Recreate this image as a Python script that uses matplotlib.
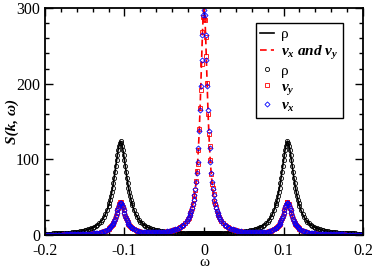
import numpy as np
import matplotlib
matplotlib.use("Agg")
import matplotlib.pyplot as plt
from matplotlib.ticker import MultipleLocator

plt.rcParams["font.family"] = ["Liberation Serif", "DejaVu Serif"]
plt.rcParams["mathtext.fontset"] = "custom"
plt.rcParams["mathtext.rm"] = "Liberation Serif"
plt.rcParams["mathtext.it"] = "Liberation Serif:italic:bold"
plt.rcParams["mathtext.bf"] = "Liberation Serif:bold"

# coarse frequency grid of the spectrum, -0.2 .. 0.2 in steps of 0.002
omega = np.linspace(-0.2, 0.2, 201)

# density spectrum S(k, w)
rho = [
    1.65, 1.7, 1.8, 1.85, 1.9, 2.0, 2.1, 2.2, 2.3, 2.4,
    2.5, 2.6, 2.7, 2.9, 3.0, 3.2, 3.3, 3.5, 3.8, 4.0,
    4.3, 4.6, 4.9, 5.3, 5.7, 6.2, 6.7, 7.3, 8.0, 8.8,
    9.7, 10.8, 12.1, 13.6, 15.4, 17.6, 20.3, 23.5, 27.6, 32.6,
    38.9, 46.8, 56.7, 68.9, 83.2, 98.7, 112.6, 121.1, 121.1, 112.6,
    98.7, 83.2, 69.0, 56.8, 46.9, 39.0, 32.7, 27.7, 23.7, 20.4,
    17.8, 15.6, 13.8, 12.3, 11.0, 10.0, 9.0, 8.2, 7.5, 7.0,
    6.4, 6.0, 5.6, 5.2, 4.9, 4.6, 4.3, 4.1, 3.9, 3.7,
    3.5, 3.4, 3.25, 3.1, 3.0, 2.9, 2.8, 2.75, 2.7, 2.6,
    2.55, 2.5, 2.45, 2.4, 2.4, 2.35, 2.3, 2.3, 2.3, 2.3,
    2.3,
    2.3, 2.3, 2.3, 2.3, 2.35, 2.4, 2.4, 2.45, 2.5, 2.55,
    2.6, 2.7, 2.75, 2.8, 2.9, 3.0, 3.1, 3.25, 3.4, 3.5,
    3.7, 3.9, 4.1, 4.3, 4.6, 4.9, 5.2, 5.6, 6.0, 6.4,
    7.0, 7.5, 8.2, 9.0, 10.0, 11.0, 12.3, 13.8, 15.6, 17.8,
    20.4, 23.7, 27.7, 32.7, 39.0, 46.9, 56.8, 69.0, 83.2, 98.7,
    112.6, 121.1, 121.1, 112.6, 98.7, 83.2, 68.9, 56.7, 46.8, 38.9,
    32.6, 27.6, 23.5, 20.3, 17.6, 15.4, 13.6, 12.1, 10.8, 9.7,
    8.8, 8.0, 7.3, 6.7, 6.2, 5.7, 5.3, 4.9, 4.6, 4.3,
    4.0, 3.8, 3.5, 3.3, 3.2, 3.0, 2.9, 2.7, 2.6, 2.5,
    2.4, 2.3, 2.2, 2.1, 2.0, 1.9, 1.85, 1.8, 1.7, 1.65,
]

# transverse velocity spectrum v_y
vy = [
    0.46, 0.47, 0.49, 0.5, 0.52, 0.54, 0.56, 0.58, 0.6, 0.63,
    0.65, 0.67, 0.7, 0.73, 0.76, 0.8, 0.84, 0.88, 0.92, 0.97,
    1.0, 1.1, 1.15, 1.2, 1.3, 1.4, 1.5, 1.6, 1.75, 1.9,
    2.1, 2.3, 2.5, 2.8, 3.2, 3.6, 4.1, 4.8, 5.6, 6.7,
    8.1, 10.1, 12.8, 16.5, 21.7, 28.6, 36.3, 43.0, 41.0, 36.4,
    28.8, 22.0, 16.9, 13.2, 10.6, 8.7, 7.3, 6.3, 5.5, 4.95,
    4.5, 4.2, 3.95, 3.75, 3.6, 3.5, 3.45, 3.45, 3.45, 3.5,
    3.55, 3.65, 3.8, 3.9, 4.1, 4.35, 4.6, 4.9, 5.3, 5.7,
    6.1, 6.6, 7.3, 8.1, 9.1, 10.2, 11.6, 13.3, 15.4, 18.0,
    21.5, 26.0, 32.1, 40.5, 51.0, 72.0, 94.0, 140.0, 192.0, 268.0,
    286.0,
    262.0, 201.0, 134.0, 99.0, 68.0, 54.0, 40.5, 32.1, 26.0, 21.5,
    18.0, 15.4, 13.3, 11.6, 10.2, 9.1, 8.1, 7.3, 6.6, 6.1,
    5.7, 5.3, 4.9, 4.6, 4.35, 4.1, 3.9, 3.8, 3.65, 3.55,
    3.5, 3.45, 3.45, 3.45, 3.5, 3.6, 3.75, 3.95, 4.2, 4.5,
    4.95, 5.5, 6.3, 7.3, 8.7, 10.6, 13.2, 16.9, 22.0, 28.8,
    36.4, 43.0, 41.0, 36.3, 28.6, 21.7, 16.5, 12.8, 10.1, 8.1,
    6.7, 5.6, 4.8, 4.1, 3.6, 3.2, 2.8, 2.5, 2.3, 2.1,
    1.9, 1.75, 1.6, 1.5, 1.4, 1.3, 1.2, 1.15, 1.1, 1.0,
    0.97, 0.92, 0.88, 0.84, 0.8, 0.76, 0.73, 0.7, 0.67, 0.65,
    0.63, 0.6, 0.58, 0.56, 0.54, 0.52, 0.5, 0.49, 0.47, 0.46,
]

# longitudinal velocity spectrum v_x
vx = [
    0.46, 0.47, 0.49, 0.5, 0.52, 0.54, 0.56, 0.58, 0.6, 0.63,
    0.65, 0.67, 0.7, 0.73, 0.76, 0.8, 0.84, 0.88, 0.92, 0.97,
    1.0, 1.1, 1.15, 1.2, 1.3, 1.4, 1.5, 1.6, 1.75, 1.9,
    2.1, 2.3, 2.5, 2.8, 3.2, 3.6, 4.1, 4.8, 5.6, 6.7,
    8.1, 10.1, 12.8, 16.5, 21.7, 28.6, 36.3, 42.0, 42.0, 36.4,
    28.8, 22.0, 16.9, 13.2, 10.6, 8.7, 7.3, 6.3, 5.5, 4.95,
    4.5, 4.2, 3.95, 3.75, 3.6, 3.5, 3.45, 3.45, 3.45, 3.5,
    3.55, 3.65, 3.8, 3.9, 4.1, 4.35, 4.6, 4.9, 5.3, 5.7,
    6.1, 6.6, 7.3, 8.1, 9.1, 10.2, 11.6, 13.3, 15.4, 18.0,
    21.5, 26.0, 32.1, 40.5, 52.5, 70.1, 96.7, 137.4, 196.6, 265.0,
    298.0,
    265.0, 196.6, 137.4, 96.7, 70.1, 52.5, 40.5, 32.1, 26.0, 21.5,
    18.0, 15.4, 13.3, 11.6, 10.2, 9.1, 8.1, 7.3, 6.6, 6.1,
    5.7, 5.3, 4.9, 4.6, 4.35, 4.1, 3.9, 3.8, 3.65, 3.55,
    3.5, 3.45, 3.45, 3.45, 3.5, 3.6, 3.75, 3.95, 4.2, 4.5,
    4.95, 5.5, 6.3, 7.3, 8.7, 10.6, 13.2, 16.9, 22.0, 28.8,
    36.4, 42.0, 42.0, 36.3, 28.6, 21.7, 16.5, 12.8, 10.1, 8.1,
    6.7, 5.6, 4.8, 4.1, 3.6, 3.2, 2.8, 2.5, 2.3, 2.1,
    1.9, 1.75, 1.6, 1.5, 1.4, 1.3, 1.2, 1.15, 1.1, 1.0,
    0.97, 0.92, 0.88, 0.84, 0.8, 0.76, 0.73, 0.7, 0.67, 0.65,
    0.63, 0.6, 0.58, 0.56, 0.54, 0.52, 0.5, 0.49, 0.47, 0.46,
]

# extra samples in between, around the three peaks
omega_fine = [
    -0.119, -0.117, -0.115, -0.113, -0.111, -0.109, -0.107, -0.105,
    -0.103, -0.101, -0.099, -0.097, -0.095, -0.093, -0.091,
    -0.019, -0.017, -0.015, -0.013, -0.011, -0.009, -0.007, -0.005, -0.003, -0.001,
    0.001, 0.003, 0.005, 0.007, 0.009, 0.011, 0.013, 0.015, 0.017, 0.019,
    0.091, 0.093, 0.095, 0.097, 0.099, 0.101, 0.103, 0.105,
    0.107, 0.109, 0.111, 0.113, 0.115, 0.117, 0.119,
]
rho_fine = [
    42.6, 51.5, 62.5, 75.8, 90.9, 106.0, 117.9, 124.0,
    117.9, 106.1, 91.0, 75.9, 62.6, 51.6, 42.7,
    2.5, 2.45, 2.4, 2.4, 2.35, 2.3, 2.3, 2.3, 2.3, 2.3,
    2.3, 2.3, 2.3, 2.3, 2.3, 2.35, 2.4, 2.4, 2.45, 2.5,
    42.7, 51.6, 62.6, 75.9, 91.0, 106.1, 117.9, 124.0,
    117.9, 106.0, 90.9, 75.8, 62.5, 51.5, 42.6,
]
vy_fine = [
    9.0, 11.4, 14.5, 18.9, 24.9, 32.5, 40.5, 43.5,
    39.0, 32.6, 25.1, 19.2, 14.8, 11.75, 9.5,
    23.0, 29.5, 35.2, 47.0, 59.0, 84.0, 112.0, 168.0, 226.0, 288.0,
    284.0, 236.0, 160.0, 118.0, 80.0, 62.0, 45.0, 37.0, 28.0, 24.0,
    9.5, 11.75, 14.8, 19.2, 25.1, 32.6, 39.0, 44.0,
    40.5, 32.5, 24.9, 18.9, 14.5, 11.4, 9.0,
]
vx_fine = [
    9.0, 11.4, 14.5, 18.9, 24.9, 32.5, 39.6, 42.8,
    39.7, 32.6, 25.1, 19.2, 14.8, 11.75, 9.5,
    23.6, 28.8, 36.0, 45.9, 60.4, 82.0, 114.9, 164.7, 231.6, 290.8,
    290.8, 231.6, 164.7, 114.9, 82.0, 60.4, 45.9, 36.0, 28.8, 23.6,
    9.5, 11.75, 14.8, 19.2, 25.1, 32.6, 39.7, 42.8,
    39.6, 32.5, 24.9, 18.9, 14.5, 11.4, 9.0,
]

# merge both sample sets in frequency order
w = np.concatenate([omega, omega_fine])
order = np.argsort(w)
w = w[order]
s_rho = np.concatenate([rho, rho_fine])[order]
s_vy = np.concatenate([vy, vy_fine])[order]
s_vx = np.concatenate([vx, vx_fine])[order]

fig = plt.figure(figsize=(3.74, 2.70), dpi=100)
ax = fig.add_axes([0.1203, 0.1296, 0.8503, 0.8407])

ax.plot(w, s_rho, color="black", lw=1.2, label="ρ")
ax.plot(w, s_vx, color="red", lw=1.2, ls=(0, (4, 2.5)), label=r"$v_x$ and $v_y$")
ax.plot(w, s_rho, ls="none", marker="o", ms=3.0, mfc="none", mec="black", mew=0.6, label="ρ")
ax.plot(w, s_vy, ls="none", marker="s", ms=2.8, mfc="none", mec="red", mew=0.6, label=r"$v_y$")
ax.plot(w, s_vx, ls="none", marker="D", ms=2.6, mfc="none", mec="blue", mew=0.6, label=r"$v_x$")

ax.set_xlim(-0.2, 0.2)
ax.set_ylim(0, 300)
ax.xaxis.set_major_locator(MultipleLocator(0.1))
ax.xaxis.set_minor_locator(MultipleLocator(0.02))
ax.yaxis.set_major_locator(MultipleLocator(100))
ax.yaxis.set_minor_locator(MultipleLocator(20))
ax.xaxis.set_major_formatter(plt.FuncFormatter(lambda v, p: "0" if abs(v) < 1e-9 else f"{v:.1f}"))
ax.tick_params(which="both", direction="in", top=True, right=True, labelsize=11.5, width=1)
ax.tick_params(which="major", length=6)
ax.tick_params(which="minor", length=3)
ax.tick_params(axis="x", which="both", pad=6)
for s in ax.spines.values():
    s.set_linewidth(1.3)

ax.set_xlabel("ω", fontsize=11, va="center")
ax.xaxis.set_label_coords(0.5, -0.119)
ax.set_ylabel("S(k, ω)", fontsize=11, fontweight="bold", style="italic")
ax.yaxis.set_label_coords(-0.083, 0.5)

leg = ax.legend(loc="upper right", bbox_to_anchor=(0.937, 0.934), fontsize=11,
                frameon=True, fancybox=False, edgecolor="black", framealpha=1,
                numpoints=1, handlelength=0.9, handletextpad=0.45,
                labelspacing=0.15, borderpad=0.3, borderaxespad=0)
leg.get_frame().set_linewidth(1.0)
for i, t in enumerate(leg.get_texts()):
    if i in (1, 3, 4):
        t.set_fontweight("bold")
        t.set_fontstyle("italic")

fig.savefig("out.png", dpi=100)
